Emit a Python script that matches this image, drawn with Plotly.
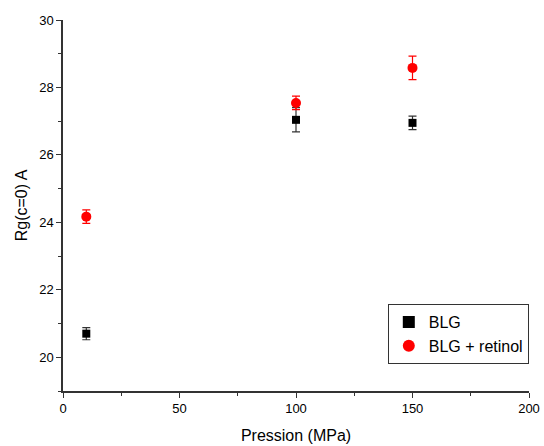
import plotly.graph_objects as go

pressure = [10, 100, 150]
blg = [20.70, 27.04, 26.95]
blg_err = [0.18, 0.36, 0.20]
retinol = [24.17, 27.54, 28.58]
retinol_err = [0.20, 0.20, 0.35]

font = "Liberation Sans, Arial, sans-serif"

fig = go.Figure()
fig.add_trace(go.Scatter(
    x=pressure, y=blg, mode="markers", name="BLG",
    marker=dict(symbol="square", size=8, color="black"),
    error_y=dict(type="data", array=blg_err, visible=True, color="#333", thickness=1.2, width=4),
))
fig.add_trace(go.Scatter(
    x=pressure, y=retinol, mode="markers", name="BLG + retinol",
    marker=dict(symbol="circle", size=10, color="#ff0000"),
    error_y=dict(type="data", array=retinol_err, visible=True, color="#ff0000", thickness=1.2, width=4),
))

axis_common = dict(
    showline=True, linecolor="#333", linewidth=1.5, mirror=False,
    showgrid=False, zeroline=False, automargin=False,
    ticks="outside", ticklen=5, tickwidth=1.2, tickcolor="#333",
    tickfont=dict(family=font, size=13, color="black"),
)

fig.update_xaxes(
    range=[0, 200], tickvals=[0, 50, 100, 150, 200],
    minor=dict(dtick=25, ticks="outside", ticklen=3, tickcolor="#333", tickwidth=1),
    title=dict(text="Pression (MPa)", font=dict(family=font, size=16, color="black"), standoff=14),
    **axis_common,
)
fig.update_yaxes(
    range=[19, 30], tickvals=[20, 22, 24, 26, 28, 30],
    minor=dict(dtick=1, ticks="outside", ticklen=3, tickcolor="#333", tickwidth=1),
    title=dict(text="Rg(c=0) A", font=dict(family=font, size=16, color="black"), standoff=8),
    **axis_common,
)

fig.update_layout(
    width=544, height=446,
    margin=dict(l=63, r=15, t=20, b=55),
    plot_bgcolor="white", paper_bgcolor="white",
    font=dict(family=font, size=13, color="black"),
    legend=dict(
        x=0.697, y=0.2345, xanchor="left", yanchor="top",
        bordercolor="#333", borderwidth=1, bgcolor="white",
        font=dict(family=font, size=16, color="black"),
        itemsizing="constant", tracegroupgap=0,
    ),
    showlegend=True,
)

fig.write_html("out.html")
